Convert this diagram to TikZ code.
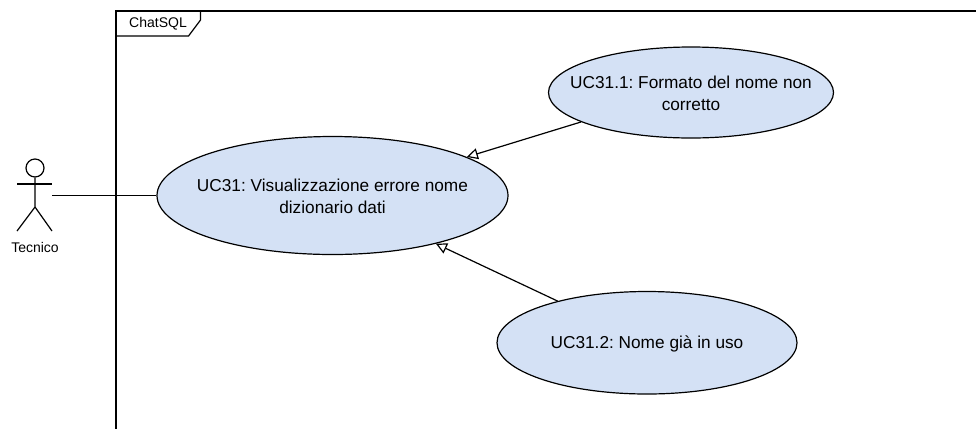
\documentclass[tikz,border=0pt]{standalone}
\usepackage{fontspec}
\setmainfont{Liberation Sans}
\usetikzlibrary{shapes.geometric,arrows.meta}
\definecolor{ucfill}{HTML}{D4E1F5}
\tikzset{
  usecase/.style={ellipse,draw=black,fill=ucfill,line width=1.2pt,inner sep=0pt},
  uctext/.style={inner sep=0pt,align=center,text=black,yshift=-1pt,font=\fontsize{17.25}{21.5}\selectfont},
  line/.style={line width=1.2pt,draw=black},
  general/.style={line,-{Triangle[open,fill=white,length=11pt,width=11pt]}},
  label/.style={inner sep=0pt,text=black}
}
\frenchspacing
\begin{document}
\begin{tikzpicture}[x=1pt,y=-1pt]
\useasboundingbox (0,0) rectangle (976,429);
% frame
\draw[line] (976,11) -- (116,11) -- (116,429);
\draw[line] (116,36) -- (188.5,36) -- (200.5,20) -- (200.5,11);
\node[label,font=\fontsize{14}{17}\selectfont] (frame) at (158,23.5) {ChatSQL};
% actor
\node[circle,draw=black,line width=1.2pt,minimum size=18pt,inner sep=0pt] (head) at (35,168) {};
\coordinate (hip) at (35,207);
\coordinate (armL) at (17,184);
\coordinate (armR) at (52,184);
\coordinate (legL) at (17,231);
\coordinate (legR) at (52,231);
\draw[line] (head.south) -- (hip) -- (legL);
\draw[line] (hip) -- (legR);
\draw[line] (armL) -- (armR);
\node[label,font=\fontsize{14}{17}\selectfont] (tecnico) at (35,247.5) {Tecnico};
\coordinate (actor) at (52,195.5);
% use cases
\node[usecase,minimum width=351pt,minimum height=118pt] (uc31) at (332.5,195.5) {};
\node[uctext] (uc31t) at (uc31.center) {UC31: Visualizzazione errore nome\\dizionario dati};
\node[usecase,minimum width=285pt,minimum height=91pt] (uc311) at (691,92.5) {};
\node[uctext] (uc311t) at (uc311.center) {UC31.1: Formato del nome non\\corretto};
\node[usecase,minimum width=300pt,minimum height=102.5pt] (uc312) at (647,342.75) {};
\node[uctext] (uc312t) at (uc312.center) {UC31.2: Nome già in uso};
% connectors
\draw[line] (actor) -- (uc31.west);
\draw[general] (uc311.195.4) -- (uc31.16.5);
\draw[general] (uc312.155.4) -- (uc31.-25.6);
\end{tikzpicture}
\end{document}
